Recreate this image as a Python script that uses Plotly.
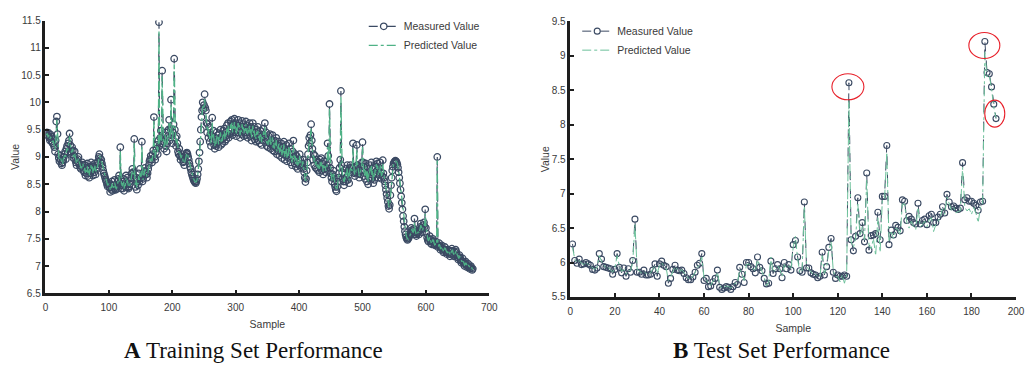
import plotly.graph_objects as go

# ---------------- Training set data (samples 1..674) ----------------
train_measured = [
9.42, 9.45, 9.40, 9.38, 9.44, 9.35, 9.30, 9.41, 9.37, 9.28,
9.25, 9.33, 9.22, 9.18, 9.10, 9.30, 9.65, 9.74, 9.42, 9.05,
8.98, 8.92, 9.02, 8.95, 8.88, 8.85, 8.90, 8.94, 9.00, 9.05,
9.10, 8.96, 9.15, 9.20, 9.08, 9.25, 9.30, 9.43, 9.22, 9.10,
9.05, 9.18, 9.12, 8.98, 9.02, 9.10, 8.95, 8.90, 8.85, 8.92,
8.96, 9.00, 8.88, 8.85, 8.80, 8.78, 8.82, 8.90, 8.86, 8.75,
8.72, 8.85, 8.66, 8.80, 8.70, 8.88, 8.65, 8.78, 8.62, 8.82,
8.70, 8.90, 8.75, 8.85, 8.66, 8.82, 8.72, 8.88, 8.68, 8.80,
8.78, 8.85, 8.92, 9.00, 9.05, 8.98, 8.90, 8.95, 8.88, 8.82,
8.75, 8.70, 8.66, 8.62, 8.58, 8.55, 8.50, 8.46, 8.52, 8.48,
8.44, 8.36, 8.50, 8.40, 8.55, 8.38, 8.48, 8.42, 8.58, 8.40,
8.40, 8.43, 8.47, 8.55, 8.60, 8.66, 8.52, 9.18, 8.42, 8.48,
8.55, 8.42, 8.60, 8.38, 8.52, 8.45, 8.66, 8.50, 8.62, 8.44,
8.42, 8.46, 8.50, 8.56, 8.62, 8.70, 8.78, 8.72, 8.66, 9.33,
8.58, 8.45, 8.62, 8.40, 8.56, 8.48, 8.70, 8.55, 8.78, 8.62,
8.62, 9.28, 8.55, 8.60, 8.66, 8.74, 8.80, 8.72, 8.68, 8.62,
8.70, 8.78, 8.85, 8.92, 8.96, 9.02, 8.95, 8.90, 9.05, 9.12,
9.73, 9.00, 8.95, 9.08, 9.15, 9.22, 9.05, 9.30, 11.47, 9.20,
9.35, 9.48, 9.25, 10.58, 9.40, 9.28, 9.15, 9.32, 9.45, 9.20,
9.10, 9.25, 9.38, 9.50, 9.68, 9.30, 9.52, 10.05, 9.40, 9.25,
9.45, 9.60, 10.80, 9.50, 9.35, 9.20, 9.38, 9.25, 9.10, 9.05,
9.15, 9.02, 8.95, 9.00, 9.05, 8.98, 8.90, 8.92, 8.85, 8.95,
9.02, 9.06, 9.08, 9.05, 9.00, 8.95, 8.88, 8.82, 8.78, 8.72,
8.68, 8.64, 8.60, 8.57, 8.55, 8.53, 8.52, 8.55, 8.60, 8.68,
8.78, 8.92, 9.08, 9.28, 9.50, 9.73, 9.85, 10.00, 9.88, 9.95,
10.15, 9.90, 9.85, 9.62, 9.45, 9.60, 9.35, 9.55, 9.28, 9.42,
9.20, 9.38, 9.72, 9.30, 9.48, 9.22, 9.15, 9.35, 9.20, 9.45,
9.28, 9.40, 9.18, 9.42, 9.30, 9.50, 9.22, 9.38, 9.25, 9.48,
9.35, 9.52, 9.28, 9.45, 9.32, 9.58, 9.40, 9.62, 9.35, 9.50,
9.42, 9.65, 9.48, 9.68, 9.40, 9.60, 9.45, 9.70, 9.50, 9.62,
9.38, 9.58, 9.45, 9.68, 9.50, 9.62, 9.35, 9.55, 9.42, 9.66,
9.48, 9.60, 9.38, 9.55, 9.45, 9.65, 9.40, 9.58, 9.35, 9.52,
9.45, 9.62, 9.38, 9.55, 9.30, 9.48, 9.62, 9.40, 9.55, 9.32,
9.45, 9.28, 9.50, 9.38, 9.55, 9.30, 9.42, 9.25, 9.48, 9.35,
9.22, 9.40, 9.30, 9.52, 9.38, 9.62, 9.35, 9.45, 9.20, 9.32,
9.18, 9.38, 9.25, 9.42, 9.15, 9.30, 9.22, 9.40, 9.12, 9.28,
9.10, 9.30, 9.18, 9.35, 9.05, 9.22, 9.12, 9.28, 9.02, 9.20,
9.08, 9.25, 8.98, 9.18, 9.05, 9.28, 8.95, 9.15, 9.02, 9.22,
8.92, 9.10, 8.98, 9.25, 9.05, 9.15, 8.90, 9.05, 8.85, 9.10,
9.30, 9.00, 8.88, 9.05, 8.82, 9.02, 8.90, 8.78, 8.95, 8.85,
9.05, 8.95, 8.85, 8.80, 8.88, 8.95, 8.78, 8.72, 8.62, 8.54,
8.60, 8.75, 8.90, 9.05, 9.20, 9.35, 9.25, 9.40, 9.60, 9.30,
9.15, 8.95, 9.05, 8.85, 9.02, 8.80, 8.95, 8.78, 8.92, 8.75,
8.90, 8.72, 8.95, 8.80, 8.98, 8.75, 8.88, 8.68, 8.92, 8.78,
8.80, 8.72, 8.78, 8.85, 9.25, 9.02, 8.90, 9.97, 8.80, 8.70,
8.62, 8.55, 8.68, 8.75, 8.60, 8.50, 8.45, 8.40, 8.37, 8.45,
8.55, 8.62, 8.70, 8.80, 8.95, 10.21, 8.85, 8.72, 8.60, 8.55,
8.48, 8.68, 8.55, 8.78, 8.62, 8.85, 8.58, 8.75, 8.52, 8.80,
8.85, 8.80, 8.72, 8.78, 9.25, 8.82, 8.70, 8.65, 8.72, 8.80,
9.22, 8.85, 8.78, 8.70, 8.62, 8.68, 8.75, 8.82, 8.90, 9.27,
8.90, 8.65, 8.82, 8.60, 8.88, 8.70, 8.55, 8.78, 8.50, 8.72,
8.62, 8.85, 8.68, 8.90, 8.60, 8.78, 8.52, 8.70, 8.58, 8.82,
8.70, 8.92, 8.75, 8.88, 8.62, 8.80, 8.68, 8.90, 8.72, 8.60,
8.65, 8.94, 8.70, 8.62, 8.55, 8.48, 8.40, 8.32, 8.25, 8.18,
8.10, 8.05, 8.12, 8.30, 8.48, 8.62, 8.75, 8.82, 8.88, 8.90,
8.92, 8.93, 8.92, 8.90, 8.86, 8.80, 8.72, 8.62, 8.52, 8.40,
8.28, 8.16, 8.04, 7.92, 7.82, 7.72, 7.64, 7.58, 7.53, 7.50,
7.48, 7.50, 7.52, 7.55, 7.58, 7.62, 7.70, 7.66, 7.60, 7.64,
7.68, 7.87, 7.62, 7.58, 7.55, 7.60, 7.65, 7.62, 7.58, 7.66,
7.72, 7.78, 7.70, 7.62, 7.68, 7.75, 7.80, 7.72, 8.04, 7.70,
7.60, 7.52, 7.48, 7.45, 7.50, 7.55, 7.48, 7.42, 7.40, 7.45,
7.50, 7.46, 7.40, 7.38, 7.42, 7.45, 7.40, 9.00, 7.35, 7.38,
7.42, 7.36, 7.30, 7.34, 7.38, 7.32, 7.28, 7.25, 7.30, 7.35,
7.30, 7.26, 7.22, 7.25, 7.30, 7.28, 7.22, 7.18, 7.22, 7.28,
7.32, 7.28, 7.22, 7.18, 7.20, 7.25, 7.30, 7.26, 7.20, 7.16,
7.12, 7.15, 7.20, 7.16, 7.10, 7.06, 7.10, 7.14, 7.08, 7.04,
7.00, 7.05, 7.08, 7.02, 6.98, 7.00, 7.04, 6.98, 6.95, 6.98,
7.00, 6.96, 6.93, 6.95,
]

train_predicted = [
9.40, 9.42, 9.43, 9.36, 9.40, 9.38, 9.33, 9.36, 9.35, 9.30,
9.27, 9.30, 9.25, 9.20, 9.14, 9.25, 9.55, 9.68, 9.45, 9.10,
9.00, 8.95, 8.98, 8.97, 8.92, 8.88, 8.87, 8.96, 8.98, 9.02,
9.06, 9.00, 9.10, 9.16, 9.12, 9.20, 9.26, 9.38, 9.25, 9.14,
9.08, 9.12, 9.15, 9.02, 9.00, 9.06, 8.98, 8.93, 8.88, 8.90,
8.93, 8.97, 8.92, 8.86, 8.83, 8.80, 8.80, 8.86, 8.88, 8.79,
8.75, 8.80, 8.70, 8.76, 8.73, 8.83, 8.69, 8.75, 8.66, 8.78,
8.74, 8.85, 8.78, 8.82, 8.70, 8.79, 8.75, 8.84, 8.71, 8.77,
8.75, 8.82, 8.88, 8.96, 9.02, 9.00, 8.92, 8.92, 8.90, 8.84,
8.78, 8.72, 8.68, 8.64, 8.60, 8.57, 8.53, 8.48, 8.50, 8.50,
8.47, 8.40, 8.46, 8.43, 8.51, 8.42, 8.45, 8.44, 8.53, 8.44,
8.43, 8.42, 8.46, 8.52, 8.58, 8.64, 8.55, 9.10, 8.46, 8.46,
8.52, 8.46, 8.56, 8.42, 8.49, 8.47, 8.61, 8.53, 8.58, 8.47,
8.45, 8.45, 8.48, 8.53, 8.60, 8.67, 8.75, 8.74, 8.68, 9.25,
8.55, 8.49, 8.58, 8.44, 8.52, 8.51, 8.65, 8.58, 8.73, 8.64,
8.65, 9.20, 8.60, 8.58, 8.63, 8.71, 8.78, 8.75, 8.70, 8.64,
8.68, 8.75, 8.82, 8.90, 8.95, 9.00, 8.97, 8.92, 9.02, 9.10,
9.66, 9.05, 8.98, 9.05, 9.12, 9.20, 9.08, 9.26, 11.30, 9.25,
9.30, 9.44, 9.28, 10.48, 9.43, 9.30, 9.18, 9.28, 9.42, 9.24,
9.14, 9.22, 9.34, 9.46, 9.62, 9.35, 9.48, 9.96, 9.44, 9.28,
9.40, 9.56, 10.70, 9.55, 9.38, 9.24, 9.34, 9.28, 9.14, 9.08,
9.12, 9.05, 8.98, 8.98, 9.03, 9.00, 8.93, 8.90, 8.88, 8.92,
8.99, 9.04, 9.07, 9.06, 9.02, 8.97, 8.91, 8.85, 8.80, 8.75,
8.70, 8.66, 8.62, 8.59, 8.56, 8.55, 8.54, 8.55, 8.58, 8.65,
8.74, 8.88, 9.04, 9.22, 9.44, 9.66, 9.80, 9.94, 9.90, 9.92,
10.06, 9.94, 9.82, 9.65, 9.50, 9.55, 9.40, 9.50, 9.33, 9.38,
9.25, 9.33, 9.63, 9.36, 9.42, 9.27, 9.20, 9.30, 9.24, 9.40,
9.32, 9.36, 9.23, 9.37, 9.34, 9.45, 9.27, 9.34, 9.29, 9.43,
9.38, 9.47, 9.33, 9.41, 9.36, 9.52, 9.44, 9.57, 9.40, 9.47,
9.45, 9.60, 9.52, 9.63, 9.45, 9.56, 9.49, 9.64, 9.53, 9.58,
9.43, 9.54, 9.48, 9.62, 9.53, 9.58, 9.40, 9.51, 9.46, 9.60,
9.51, 9.56, 9.43, 9.51, 9.48, 9.60, 9.44, 9.53, 9.40, 9.48,
9.48, 9.57, 9.42, 9.51, 9.35, 9.45, 9.57, 9.44, 9.51, 9.37,
9.42, 9.33, 9.46, 9.41, 9.50, 9.35, 9.39, 9.30, 9.44, 9.38,
9.27, 9.36, 9.33, 9.47, 9.41, 9.56, 9.39, 9.42, 9.25, 9.30,
9.22, 9.34, 9.28, 9.38, 9.20, 9.27, 9.25, 9.36, 9.17, 9.25,
9.15, 9.26, 9.21, 9.31, 9.10, 9.19, 9.15, 9.24, 9.07, 9.17,
9.11, 9.21, 9.03, 9.14, 9.08, 9.23, 9.00, 9.11, 9.05, 9.18,
8.97, 9.06, 9.01, 9.20, 9.08, 9.12, 8.95, 9.02, 8.90, 9.06,
9.22, 9.04, 8.92, 9.01, 8.87, 8.98, 8.92, 8.82, 8.92, 8.88,
9.02, 8.98, 8.88, 8.82, 8.85, 8.92, 8.82, 8.75, 8.66, 8.57,
8.58, 8.70, 8.85, 9.00, 9.15, 9.30, 9.27, 9.35, 9.52, 9.34,
9.12, 9.00, 9.02, 8.90, 8.98, 8.85, 8.92, 8.82, 8.88, 8.79,
8.86, 8.77, 8.90, 8.83, 8.93, 8.80, 8.85, 8.73, 8.87, 8.80,
8.83, 8.75, 8.76, 8.82, 9.18, 9.05, 8.92, 9.88, 8.84, 8.73,
8.65, 8.57, 8.64, 8.72, 8.63, 8.53, 8.47, 8.42, 8.39, 8.42,
8.51, 8.59, 8.67, 8.76, 8.90, 10.10, 8.88, 8.75, 8.63, 8.57,
8.52, 8.64, 8.59, 8.73, 8.66, 8.80, 8.62, 8.71, 8.57, 8.75,
8.82, 8.82, 8.75, 8.76, 9.16, 8.86, 8.73, 8.67, 8.69, 8.77,
9.14, 8.88, 8.80, 8.73, 8.65, 8.66, 8.72, 8.79, 8.87, 9.18,
8.85, 8.70, 8.78, 8.65, 8.83, 8.72, 8.60, 8.74, 8.55, 8.68,
8.66, 8.80, 8.72, 8.85, 8.65, 8.75, 8.57, 8.67, 8.62, 8.77,
8.74, 8.87, 8.78, 8.84, 8.67, 8.76, 8.71, 8.85, 8.74, 8.65,
8.68, 8.88, 8.73, 8.65, 8.57, 8.50, 8.43, 8.35, 8.28, 8.21,
8.14, 8.08, 8.10, 8.25, 8.43, 8.58, 8.71, 8.79, 8.85, 8.88,
8.90, 8.92, 8.92, 8.91, 8.88, 8.83, 8.75, 8.66, 8.56, 8.44,
8.32, 8.20, 8.08, 7.96, 7.85, 7.75, 7.67, 7.61, 7.56, 7.52,
7.50, 7.49, 7.51, 7.53, 7.56, 7.60, 7.67, 7.68, 7.63, 7.62,
7.66, 7.80, 7.66, 7.60, 7.57, 7.58, 7.63, 7.63, 7.60, 7.63,
7.69, 7.75, 7.72, 7.65, 7.66, 7.72, 7.77, 7.74, 7.96, 7.74,
7.63, 7.55, 7.50, 7.47, 7.48, 7.53, 7.50, 7.44, 7.41, 7.43,
7.48, 7.47, 7.42, 7.39, 7.40, 7.44, 7.42, 8.94, 7.38, 7.37,
7.40, 7.38, 7.32, 7.32, 7.36, 7.34, 7.30, 7.26, 7.28, 7.33,
7.32, 7.28, 7.24, 7.24, 7.28, 7.29, 7.24, 7.20, 7.20, 7.26,
7.30, 7.30, 7.24, 7.20, 7.19, 7.23, 7.28, 7.28, 7.22, 7.18,
7.14, 7.14, 7.18, 7.17, 7.12, 7.08, 7.08, 7.12, 7.10, 7.06,
7.02, 7.03, 7.06, 7.04, 7.00, 6.99, 7.02, 7.00, 6.97, 6.97,
6.99, 6.98, 6.95, 6.94,
]
train_samples = list(range(1, len(train_measured) + 1))

# ---------------- Test set data (samples 1..191) ----------------
test_measured = [
6.27, 6.03, 5.99, 6.05, 5.97, 5.98, 6.00, 5.98, 5.96, 5.90,
5.89, 5.92, 6.13, 6.05, 5.94, 5.93, 5.92, 5.91, 5.83, 5.90,
6.13, 5.93, 5.85, 5.92, 5.80, 5.91, 5.86, 6.03, 6.63, 5.86,
5.86, 5.83, 5.89, 5.82, 5.82, 5.83, 5.89, 5.98, 5.80, 5.98,
6.02, 5.96, 5.94, 5.70, 5.77, 5.90, 5.96, 5.89, 5.88, 5.89,
5.84, 5.78, 5.75, 5.75, 5.79, 5.86, 5.96, 5.99, 6.13, 5.74,
5.77, 5.65, 5.66, 5.72, 5.77, 5.89, 5.64, 5.61, 5.63, 5.65,
5.64, 5.61, 5.65, 5.71, 5.68, 5.93, 5.83, 5.71, 6.00, 6.00,
5.94, 5.91, 5.85, 6.08, 5.93, 5.88, 5.77, 5.69, 5.70, 6.02,
5.84, 5.91, 5.97, 5.91, 5.78, 6.00, 5.91, 5.97, 5.89, 6.26,
6.32, 6.08, 5.88, 5.86, 6.88, 5.92, 5.92, 5.85, 5.83, 5.82,
5.78, 5.80, 6.15, 5.82, 5.94, 6.22, 6.35, 5.86, 5.77, 5.82,
5.80, 5.80, 5.82, 5.80, 8.61, 6.33, 6.17, 6.38, 6.94, 6.42,
6.58, 6.30, 7.30, 6.18, 6.39, 6.40, 6.42, 6.73, 6.33, 6.96,
6.96, 7.70, 6.26, 6.47, 6.40, 6.54, 6.51, 6.46, 6.91, 6.89,
6.61, 6.67, 6.63, 6.58, 6.56, 6.86, 6.56, 6.61, 6.63, 6.55,
6.68, 6.70, 6.58, 6.58, 6.66, 6.70, 6.81, 6.72, 6.99, 6.88,
6.81, 6.82, 6.79, 6.77, 6.79, 7.45, 6.91, 6.94, 6.89, 6.89,
6.86, 6.83, 6.76, 6.88, 6.89, 9.21, 8.76, 8.74, 8.55, 8.30,
8.09,
]
test_predicted = [
6.22, 6.05, 6.00, 6.03, 5.99, 5.97, 6.01, 5.97, 5.95, 5.92,
5.90, 5.93, 6.10, 6.02, 5.96, 5.92, 5.93, 5.89, 5.86, 5.92,
6.10, 5.95, 5.87, 5.90, 5.83, 5.89, 5.88, 6.00, 6.55, 5.90,
5.88, 5.85, 5.87, 5.84, 5.83, 5.85, 5.91, 5.95, 5.84, 5.96,
6.00, 5.95, 5.92, 5.74, 5.79, 5.88, 5.94, 5.90, 5.86, 5.90,
5.85, 5.80, 5.77, 5.76, 5.81, 5.85, 5.93, 5.97, 6.08, 5.78,
5.76, 5.68, 5.67, 5.73, 5.76, 5.86, 5.67, 5.63, 5.64, 5.66,
5.65, 5.63, 5.66, 5.70, 5.70, 5.90, 5.84, 5.74, 5.97, 5.98,
5.95, 5.90, 5.87, 6.04, 5.94, 5.87, 5.79, 5.66, 5.72, 6.08,
5.86, 5.89, 5.95, 5.90, 5.80, 5.97, 5.92, 5.95, 5.90, 6.22,
6.38, 6.05, 5.85, 5.88, 6.82, 5.94, 5.90, 5.87, 5.82, 5.83,
5.80, 5.79, 6.10, 5.84, 5.92, 6.18, 6.30, 5.88, 5.79, 5.80,
5.72, 5.82, 5.70, 5.82, 8.35, 6.30, 6.22, 6.35, 6.85, 6.38,
6.52, 6.33, 7.20, 6.25, 6.20, 6.35, 6.10, 6.65, 6.15, 6.90,
6.92, 7.60, 6.30, 6.44, 6.35, 6.50, 6.48, 6.40, 6.85, 6.85,
6.58, 6.50, 6.60, 6.52, 6.48, 6.80, 6.52, 6.55, 6.60, 6.52,
6.62, 6.65, 6.45, 6.55, 6.60, 6.66, 6.78, 6.70, 6.95, 6.85,
6.76, 6.80, 6.72, 6.74, 6.75, 7.38, 6.80, 6.75, 6.78, 6.70,
6.80, 6.72, 6.58, 6.80, 6.85, 9.05, 8.70, 8.72, 8.52, 8.25,
8.10,
]
test_samples = list(range(1, len(test_measured) + 1))

# highlighted test samples (red ellipses)
highlight_samples = [125, 186, 190]

# ---------------- Styles ----------------
NAVY = "#3b4a63"
GREEN = "#4fb286"
GREEN_LIGHT = "#6cc09a"
AXIS = "#1e1e1e"
SANS = "Liberation Sans, Arial, sans-serif"
SERIF = "Liberation Serif, Times New Roman, serif"
W, H = 1030, 371

fig = go.Figure()

fig.add_trace(go.Scatter(
    x=train_samples, y=train_measured, name="Measured Value",
    mode="lines+markers", line=dict(color=NAVY, width=1.2, dash="dash"),
    marker=dict(symbol="circle-open", size=6.5, color=NAVY, line=dict(width=1.3, color=NAVY)),
    xaxis="x", yaxis="y", legend="legend"))
fig.add_trace(go.Scatter(
    x=train_samples, y=train_predicted, name="Predicted Value",
    mode="lines", line=dict(color=GREEN, width=1.3, dash="dashdot"),
    xaxis="x", yaxis="y", legend="legend"))

fig.add_trace(go.Scatter(
    x=test_samples, y=test_measured, name="Measured Value",
    mode="lines+markers", line=dict(color=NAVY, width=1, dash="dash"),
    marker=dict(symbol="circle-open", size=6, color=NAVY, line=dict(width=1.1, color=NAVY)),
    xaxis="x2", yaxis="y2", legend="legend2"))
fig.add_trace(go.Scatter(
    x=test_samples, y=test_predicted, name="Predicted Value",
    mode="lines", line=dict(color=GREEN_LIGHT, width=1, dash="dashdot"),
    xaxis="x2", yaxis="y2", legend="legend2"))

# red ellipses around highlighted test points (anchored on the data, sized in pixels)
ell_px = {125: (-17, 15, -17, 9), 186: (-16, 15, -17, 9), 190: (-9, 11, -23, 4)}
for s in highlight_samples:
    x0, x1, y0, y1 = ell_px[s]
    fig.add_shape(type="circle", xref="x2", yref="y2",
                  xsizemode="pixel", ysizemode="pixel",
                  xanchor=test_samples[s - 1], yanchor=test_measured[s - 1],
                  x0=x0, x1=x1, y0=y0, y1=y1,
                  line=dict(color="#e8202a", width=1.1))

def axis_style(**kw):
    d = dict(showline=True, linecolor=AXIS, linewidth=2.5, ticks="inside",
             ticklen=4, tickwidth=2, tickcolor=AXIS, showgrid=False, zeroline=False,
             tickfont=dict(family=SANS, size=10, color="#3a3a3a"),
             title_font=dict(family=SANS, size=10.5, color="#3a3a3a"))
    d.update(kw)
    return d

fig.update_layout(
    width=W, height=H, margin=dict(l=0, r=0, t=0, b=0),
    paper_bgcolor="white", plot_bgcolor="white",
    xaxis=axis_style(domain=[43 / W, 492 / W], range=[0, 700], dtick=100, tick0=0,
                     anchor="y", ticklabelstandoff=3, title=dict(text="Sample", standoff=9)),
    yaxis=axis_style(domain=[1 - 297 / H, 1 - 15 / H], range=[6.5, 11.5], dtick=0.5, tick0=6.5,
                     anchor="x", title=dict(text="Value", standoff=0)),
    xaxis2=axis_style(domain=[574 / W, 1025 / W], range=[0, 200], dtick=20, tick0=0,
                      anchor="y2", ticklabelstandoff=3, title=dict(text="Sample", standoff=9)),
    yaxis2=axis_style(domain=[1 - 300.7 / H, 1 - 16 / H], range=[5.5, 9.5], dtick=0.5, tick0=5.5,
                      anchor="x2", title=dict(text="Value", standoff=0)),
    legend=dict(x=365 / W, y=1 - 6 / H, xanchor="left", yanchor="top",
                bgcolor="rgba(0,0,0,0)", font=dict(family=SANS, size=10.5, color="#3a3a3a"),
                itemwidth=30, tracegroupgap=0),
    legend2=dict(x=581 / W, y=1 - 11 / H, xanchor="left", yanchor="top",
                 bgcolor="rgba(0,0,0,0)", font=dict(family=SANS, size=10.5, color="#3a3a3a"),
                 itemwidth=30, tracegroupgap=0),
    annotations=[
        dict(text="<b>A</b> Training Set Performance", xref="paper", yref="paper",
             x=253 / W, y=1 - 356 / H, xanchor="center", yanchor="middle", showarrow=False,
             font=dict(family=SERIF, size=23, color="#111")),
        dict(text="<b>B</b> Test Set Performance", xref="paper", yref="paper",
             x=788 / W, y=1 - 356 / H, xanchor="center", yanchor="middle", showarrow=False,
             font=dict(family=SERIF, size=23, color="#111")),
    ],
)

fig.write_html("out.html")
